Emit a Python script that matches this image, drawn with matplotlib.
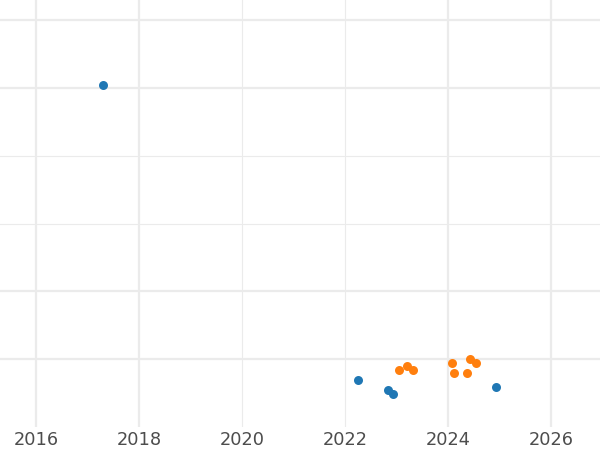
import matplotlib.pyplot as plt
from matplotlib.ticker import FixedLocator

# series values
blue_x = [2017.30, 2022.25, 2022.83, 2022.93, 2024.93]
blue_y = [4.04, -0.31, -0.46, -0.51, -0.41]
orange_x = [2023.05, 2023.20, 2023.31, 2024.08, 2024.12, 2024.37, 2024.42, 2024.54]
orange_y = [-0.16, -0.10, -0.16, -0.06, -0.21, -0.21, 0.00, -0.06]
year_ticks = [2016, 2018, 2020, 2022, 2024, 2026]

fig = plt.figure(figsize=(6, 4.5), dpi=100)
ax = fig.add_axes([0, 0.051, 1, 0.949])

#gridlines: some come out thicker than others in the reference
ax.xaxis.set_major_locator(FixedLocator([2016, 2018, 2024, 2026]))
ax.xaxis.set_minor_locator(FixedLocator([2020, 2022]))
ax.yaxis.set_major_locator(FixedLocator([0, 1, 4, 5]))
ax.yaxis.set_minor_locator(FixedLocator([2, 3]))
ax.grid(which='major', color='#ebebeb', linewidth=1.6)
ax.grid(which='minor', color='#ebebeb', linewidth=0.8)
ax.set_axisbelow(True)

ax.scatter(blue_x, blue_y, s=42, color='#1f77b4', zorder=3, linewidths=0)
ax.scatter(orange_x, orange_y, s=42, color='#ff7f0e', zorder=3, linewidths=0)

ax.set_xlim(2015.30, 2026.95)
ax.set_ylim(-1.0, 5.3)
ax.set_xticks(year_ticks)
ax.set_xticks([], minor=True)
ax.grid(False, axis='x')
for yr in year_ticks:
    lw = 0.8 if yr in (2020, 2022) else 1.6
    ax.axvline(yr, color='#ebebeb', linewidth=lw, zorder=0)
ax.set_yticklabels([])
ax.tick_params(which='both', length=0)
ax.tick_params(axis='x', labelsize=12.8, labelcolor='#4d4d4d', pad=3)
for s in ax.spines.values():
    s.set_visible(False)

fig.savefig('out.png')
